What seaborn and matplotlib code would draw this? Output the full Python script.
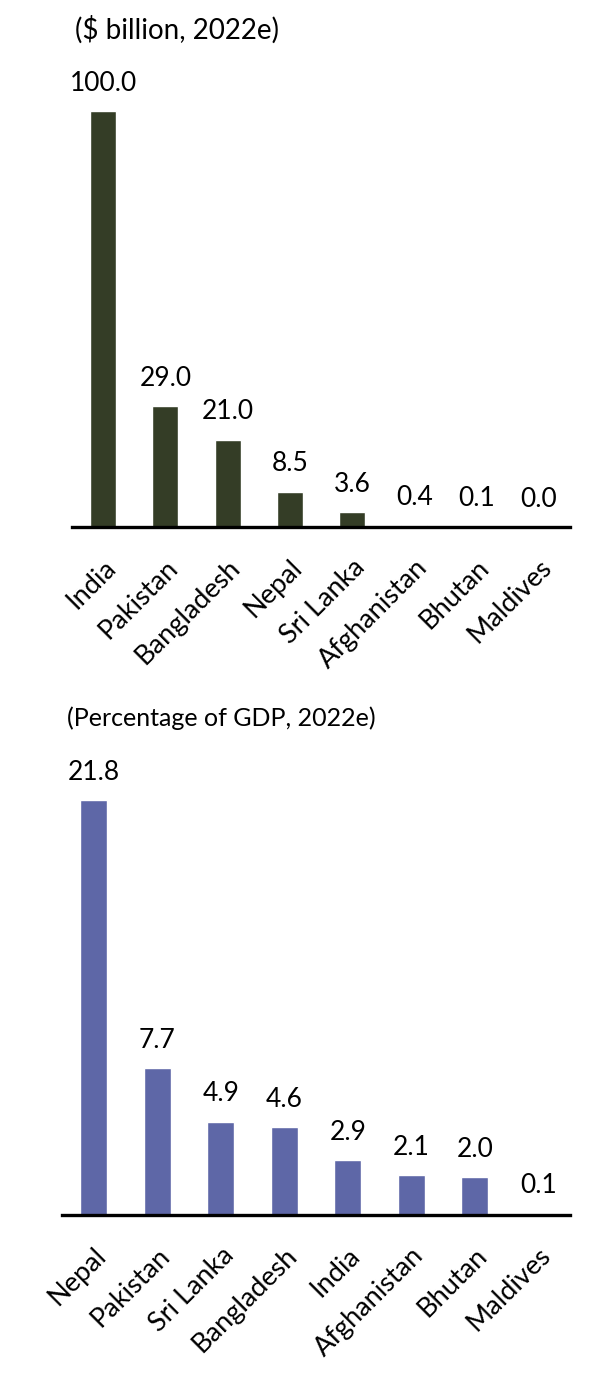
import matplotlib
matplotlib.use("Agg")
import matplotlib.pyplot as plt
import seaborn as sns
import pandas as pd

# values
remit_countries = ["India", "Pakistan", "Bangladesh", "Nepal", "Sri Lanka",
                   "Afghanistan", "Bhutan", "Maldives"]
remit_billion = [100.0, 29.0, 21.0, 8.5, 3.6, 0.4, 0.1, 0.0]

gdp_countries = ["Nepal", "Pakistan", "Sri Lanka", "Bangladesh", "India",
                 "Afghanistan", "Bhutan", "Maldives"]
remit_gdp_pct = [21.8, 7.7, 4.9, 4.6, 2.9, 2.1, 2.0, 0.1]

sns.set_theme(style="white")
plt.rcParams["font.family"] = ["Lato", "DejaVu Sans"]

fig = plt.figure(figsize=(6, 13.74), dpi=100)
W, H = 600, 1374


def panel(rect_px, cats, vals, color, ymax, title, title_xy, title_size, tick_pad):
    left, top, right, bottom = rect_px
    ax = fig.add_axes([left / W, 1 - bottom / H, (right - left) / W, (bottom - top) / H])
    df = pd.DataFrame({"country": cats, "value": vals})
    sns.barplot(data=df, x="country", y="value", color=color, width=0.42,
                saturation=1, ax=ax)
    ax.set_ylim(0, ymax)
    ax.set_xlim(-0.5, len(cats) - 0.5)
    sns.despine(ax=ax, left=True)
    ax.spines["bottom"].set_color("black")
    ax.spines["bottom"].set_linewidth(2.4)
    ax.set_yticks([])
    ax.set_xlabel("")
    ax.set_ylabel("")
    ax.tick_params(axis="x", length=0, pad=tick_pad)
    plt.setp(ax.get_xticklabels(), rotation=45, ha="right", va="top",
             rotation_mode="anchor", fontsize=19.5, color="black")
    for i, v in enumerate(vals):
        ax.annotate(f"{v:.1f}", (i, v), xytext=(0, 11), textcoords="offset points",
                    ha="center", va="bottom", fontsize=19, color="black")
    fig.text(title_xy[0] / W, 1 - title_xy[1] / H, title, fontsize=title_size,
             ha="left", va="center", color="black")
    return ax


panel((72, 60, 570, 527), remit_countries, remit_billion, "#343d26",
      100.0 * 467 / 416, "($ billion, 2022e)", (75, 30), 20, 20)
panel((62, 750, 570, 1215), gdp_countries, remit_gdp_pct, "#5e67a7",
      21.8 * 465 / 415, "(Percentage of GDP, 2022e)", (67, 718), 18, 20)

fig.savefig("out.png", dpi=100, facecolor="white")
